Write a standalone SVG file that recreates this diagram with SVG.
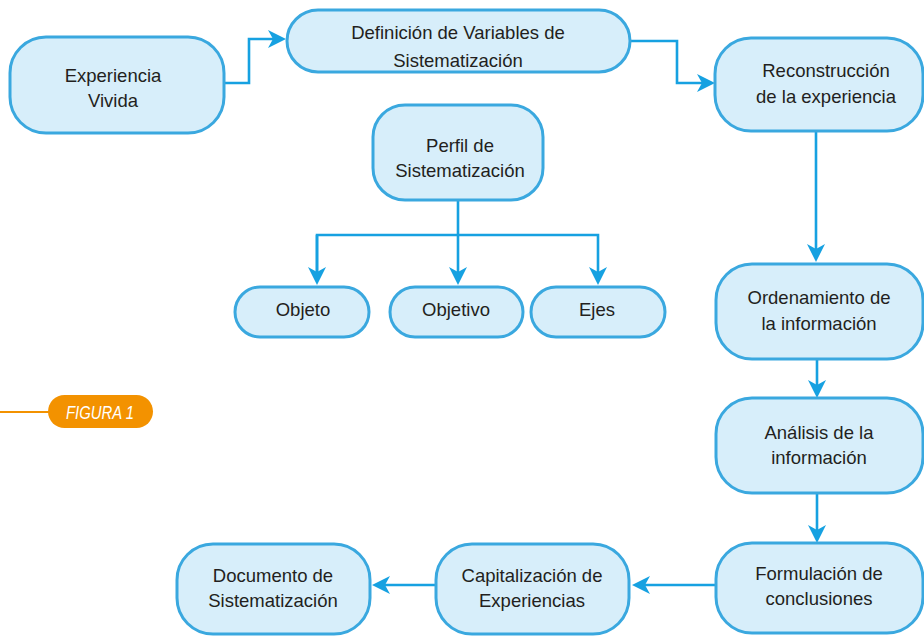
<svg xmlns="http://www.w3.org/2000/svg" width="924" height="636" viewBox="0 0 924 636">
<style>
.box{fill:#D7EEFA;stroke:#3AA8DF;stroke-width:3}
.t{font-family:"Liberation Sans",Arial,sans-serif;font-size:18.5px;fill:#231F20;text-anchor:middle}
.c{fill:none;stroke:#16A1E1;stroke-width:2.6}
</style>
<defs>
<marker id="ah" viewBox="0 0 18 18" markerWidth="18" markerHeight="18" refX="12" refY="9" orient="auto" markerUnits="userSpaceOnUse">
<path d="M0,0 L18,9 L0,18 L5,9 Z" fill="#16A1E1"/>
</marker>
</defs>
<rect width="924" height="636" fill="#FFFFFF"/>

<g id="connectors">
<path class="c" d="M224,83 H249 V39 H280" marker-end="url(#ah)"/>
<path class="c" d="M630,41 H677 V83 H709" marker-end="url(#ah)"/>
<path class="c" d="M816,131 V256" marker-end="url(#ah)"/>
<path class="c" d="M458,200 V279" marker-end="url(#ah)"/>
<path class="c" d="M317,279 V235 H598 V279" marker-end="url(#ah)"/>
<path class="c" d="M317,235 V279" marker-end="url(#ah)"/>
<path class="c" d="M817,359 V392" marker-end="url(#ah)"/>
<path class="c" d="M817,493 V537" marker-end="url(#ah)"/>
<path class="c" d="M716,585 H638" marker-end="url(#ah)"/>
<path class="c" d="M436,585 H378" marker-end="url(#ah)"/>
</g>

<g id="experiencia">
<rect class="box" x="10" y="37" width="214" height="96" rx="36"/>
<text class="t" x="113" y="82">Experiencia</text>
<text class="t" x="113" y="107">Vivida</text>
</g>
<g id="definicion">
<rect class="box" x="287" y="10" width="343" height="62" rx="31"/>
<text class="t" x="458" y="39">Definición de Variables de</text>
<text class="t" x="458" y="67">Sistematización</text>
</g>
<g id="reconstruccion">
<rect class="box" x="715" y="38" width="208" height="93" rx="36"/>
<text class="t" x="826" y="77">Reconstrucción</text>
<text class="t" x="826" y="103">de la experiencia</text>
</g>
<g id="perfil">
<rect class="box" x="373" y="105" width="170" height="95" rx="32"/>
<text class="t" x="460" y="152">Perfil de</text>
<text class="t" x="460" y="177">Sistematización</text>
</g>
<g id="objeto">
<rect class="box" x="235" y="287" width="134" height="50" rx="25"/>
<text class="t" x="303" y="316">Objeto</text>
</g>
<g id="objetivo">
<rect class="box" x="390" y="287" width="133" height="50" rx="25"/>
<text class="t" x="456" y="316">Objetivo</text>
</g>
<g id="ejes">
<rect class="box" x="531" y="287" width="134" height="50" rx="25"/>
<text class="t" x="597" y="316">Ejes</text>
</g>
<g id="ordenamiento">
<rect class="box" x="716" y="264" width="207" height="95" rx="36"/>
<text class="t" x="819" y="304">Ordenamiento de</text>
<text class="t" x="819" y="330">la información</text>
</g>
<g id="analisis">
<rect class="box" x="716" y="398" width="207" height="95" rx="36"/>
<text class="t" x="819" y="439">Análisis de la</text>
<text class="t" x="819" y="464">información</text>
</g>
<g id="formulacion">
<rect class="box" x="716" y="543" width="207" height="90" rx="36"/>
<text class="t" x="819" y="580">Formulación de</text>
<text class="t" x="819" y="605">conclusiones</text>
</g>
<g id="capitalizacion">
<rect class="box" x="436" y="544" width="193" height="90" rx="36"/>
<text class="t" x="532" y="582">Capitalización de</text>
<text class="t" x="532" y="607">Experiencias</text>
</g>
<g id="documento">
<rect class="box" x="177" y="544" width="193" height="90" rx="36"/>
<text class="t" x="273" y="582">Documento de</text>
<text class="t" x="273" y="607">Sistematización</text>
</g>

<g id="figura">
<line x1="0" y1="412" x2="50" y2="412" stroke="#F39200" stroke-width="2"/>
<rect x="48" y="395" width="105" height="33" rx="16.5" fill="#F39200"/>
<text x="100" y="419" font-family="'Liberation Sans',Arial,sans-serif" font-size="19" font-style="italic" fill="#FFFFFF" text-anchor="middle" textLength="68" lengthAdjust="spacingAndGlyphs">FIGURA 1</text>
</g>
</svg>
